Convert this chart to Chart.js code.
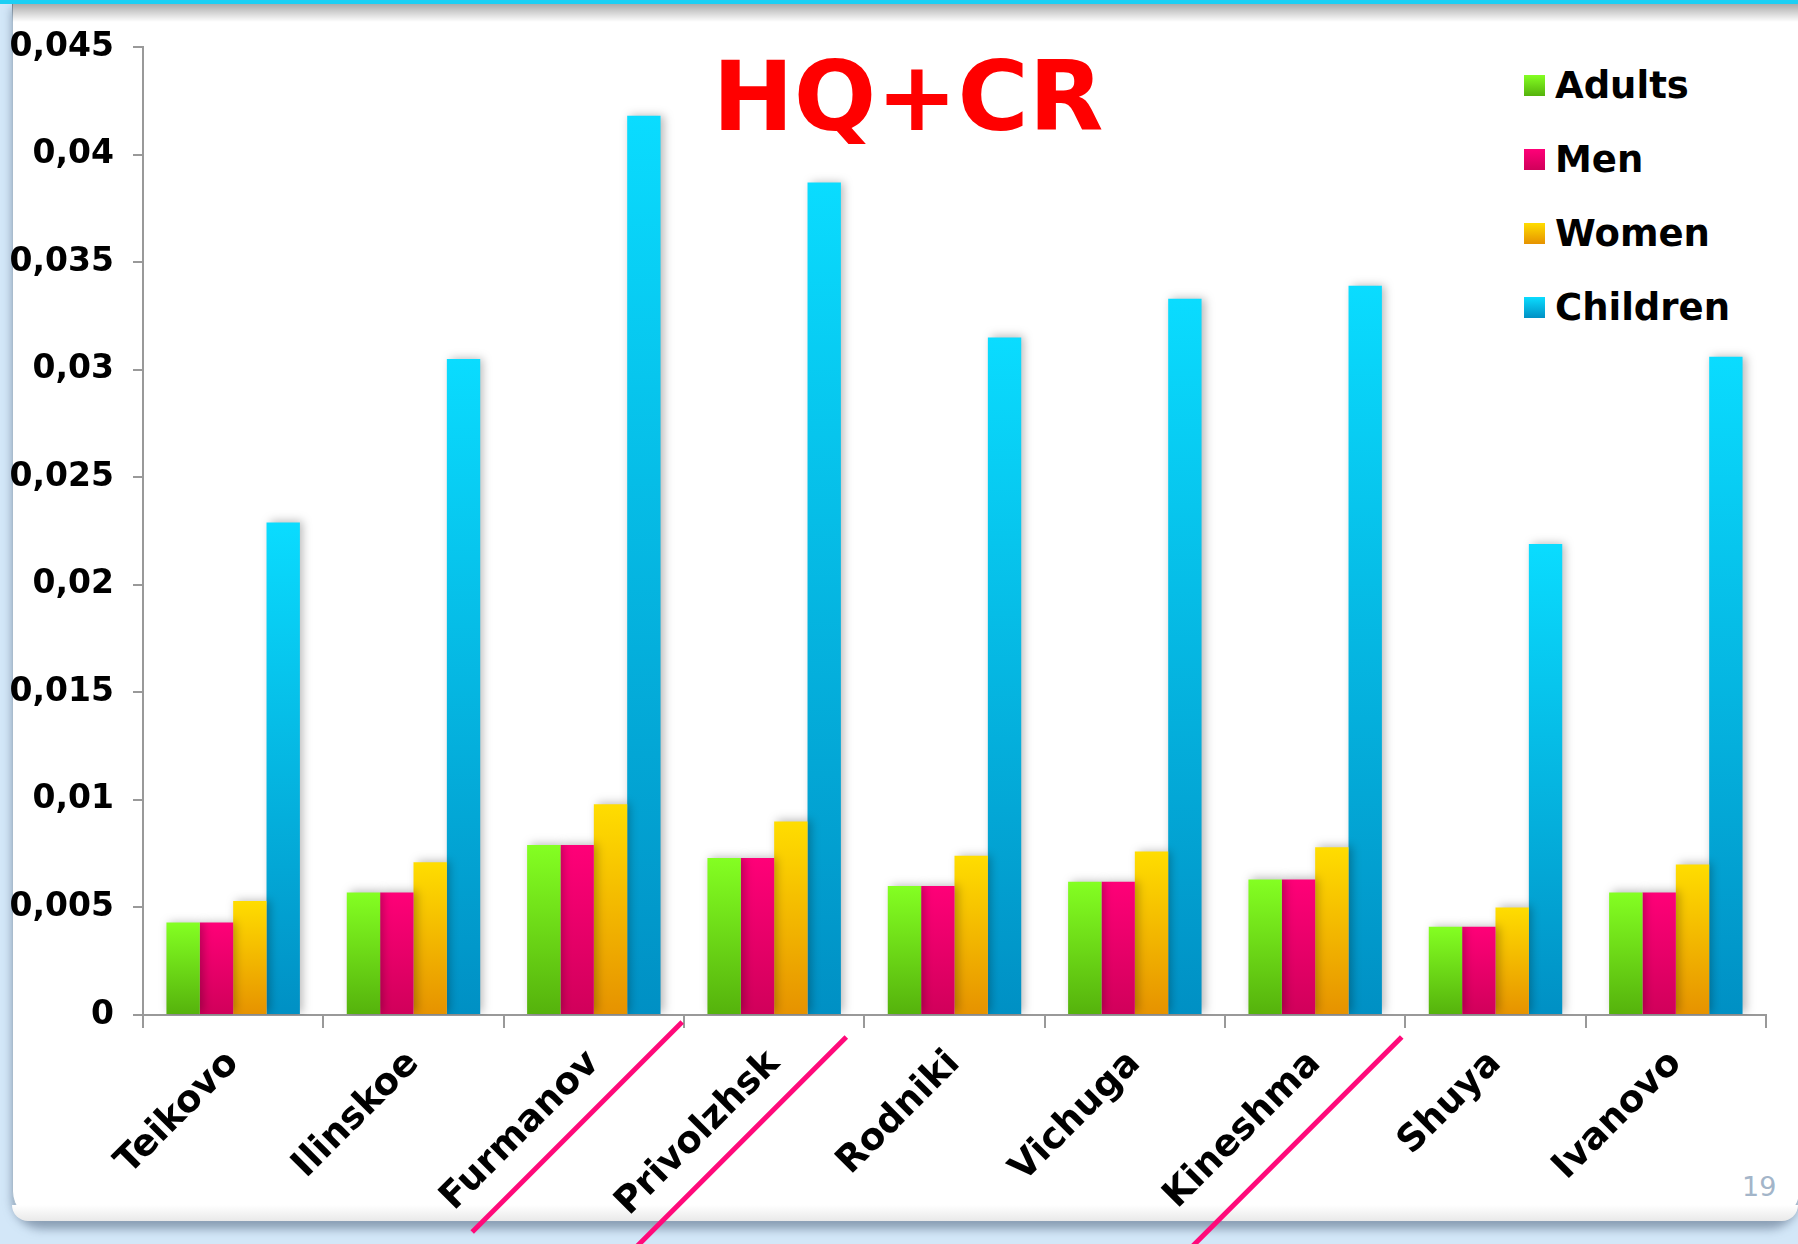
<!DOCTYPE html>
<html>
<head>
<meta charset="utf-8">
<script src="https://cdn.jsdelivr.net/npm/chart.js@4.4.1/dist/chart.umd.min.js"></script>
<style>
  body { margin: 0; width: 1798px; height: 1244px; overflow: hidden; background: #d3e7f8; font-family: "DejaVu Sans", Verdana, sans-serif; position: relative; }
  .panel { position: absolute; left: 12px; top: 0; width: 1786px; height: 1221px; background: #fff; border-left: 1px solid #a9bccd; border-radius: 0 0 30px 30px; box-shadow: 0 8px 10px rgba(90, 110, 135, 0.6); }
  .panel-foot { position: absolute; left: 12px; top: 1205px; width: 1786px; height: 16px; border-radius: 0 0 30px 30px; background: linear-gradient(#fff, #e9e9e9); }
  .topbar { position: absolute; left: 0; top: 0; width: 1798px; height: 4px; background: #1ccff4; }
  .topshade { position: absolute; left: 12px; top: 4px; width: 1786px; height: 18px; background: linear-gradient(rgba(0,0,0,0.33), rgba(0,0,0,0)); }
  .title { position: absolute; left: 0; width: 1816px; top: 44px; text-align: center; font-weight: bold; font-size: 97px; color: #ff0000; line-height: 1.1; }
  .legend { position: absolute; left: 1524px; top: 64px; }
  .legend div { height: 74px; display: flex; align-items: flex-start; font-weight: bold; font-size: 37px; color: #000; }
  .legend span.box { width: 21px; height: 21px; margin-top: 11px; margin-right: 10px; }
  .legend span.txt { line-height: 43px; }
  .pageno { position: absolute; left: 1742px; top: 1171px; font-size: 27px; color: #a3b5c9; }
  .wrap { position: absolute; left: 0; top: 0; width: 1798px; height: 1244px; }
</style>
</head>
<body>
<div class="panel"></div>
<div class="panel-foot"></div>
<div class="topshade"></div>
<div class="topbar"></div>
<div class="title">HQ+CR</div>
<div class="legend" id="legend"></div>
<div class="pageno">19</div>
<div class="wrap"><canvas id="chart"></canvas></div>
<script>
const towns = ["Teikovo", "Ilinskoe", "Furmanov", "Privolzhsk", "Rodniki", "Vichuga", "Kineshma", "Shuya", "Ivanovo"];
const seriesNames = ["Adults", "Men", "Women", "Children"];

const adults = [0.0043, 0.0057, 0.0079, 0.0073, 0.0060, 0.0062, 0.0063, 0.0041, 0.0057];
const men = [0.0043, 0.0057, 0.0079, 0.0073, 0.0060, 0.0062, 0.0063, 0.0041, 0.0057];
const women = [0.0053, 0.0071, 0.0098, 0.0090, 0.0074, 0.0076, 0.0078, 0.0050, 0.0070];
const children = [0.0229, 0.0305, 0.0418, 0.0387, 0.0315, 0.0333, 0.0339, 0.0219, 0.0306];

const yTickLabels = ["0", "0,005", "0,01", "0,015", "0,02", "0,025", "0,03", "0,035", "0,04", "0,045"];

// towns crossed out by hand on the slide
const struckOut = ["Furmanov", "Privolzhsk", "Kineshma"];

// top / bottom colours of each bar gradient
const topColors = ["#84ff22", "#ff0078", "#ffdd00", "#0adcff"];
const bottomColors = ["#55b20c", "#d0005a", "#e69200", "#0090c4"];

function barFill(i) {
  return (ctx) => {
    const chart = ctx.chart;
    const y = chart.scales.y;
    if (!chart.chartArea || !y || ctx.type !== "data") return topColors[i];
    const yTop = y.getPixelForValue(ctx.raw);
    const yBot = y.getPixelForValue(0);
    const g = chart.ctx.createLinearGradient(0, yTop, 0, yBot);
    g.addColorStop(0, topColors[i]);
    g.addColorStop(1, bottomColors[i]);
    return g;
  };
}

// html legend on top of the plot
const legendEl = document.getElementById("legend");
seriesNames.forEach((name, i) => {
  const row = document.createElement("div");
  row.innerHTML = `<span class="box" style="background:linear-gradient(${topColors[i]},${bottomColors[i]})"></span><span class="txt">${name}</span>`;
  legendEl.appendChild(row);
});

const barShadow = {
  id: "barShadow",
  beforeDatasetsDraw(chart) {
    const c = chart.ctx;
    c.save();
    c.shadowColor = "rgba(0,0,0,0.28)";
    c.shadowBlur = 9;
    c.shadowOffsetX = 3;
    c.shadowOffsetY = -1;
  },
  afterDatasetsDraw(chart) {
    chart.ctx.restore();
  },
};

const strikeLines = {
  id: "strikeLines",
  afterDraw(chart) {
    const x = chart.scales.x;
    const bottom = chart.chartArea.bottom;
    const step = x.getPixelForValue(1) - x.getPixelForValue(0);
    const starts = { Furmanov: [0.49, 7], Privolzhsk: [0.4, 22], Kineshma: [0.48, 22] };
    const c = chart.ctx;
    c.save();
    c.strokeStyle = "#ff0a7a";
    c.lineWidth = 5;
    struckOut.forEach((name) => {
      const idx = towns.indexOf(name);
      const x0 = x.getPixelForValue(idx) + starts[name][0] * step;
      const y0 = bottom + starts[name][1];
      c.beginPath();
      c.moveTo(x0, y0);
      c.lineTo(x0 - 210, y0 + 210);
      c.stroke();
    });
    c.restore();
  },
};

new Chart(document.getElementById("chart"), {
  type: "bar",
  data: {
    labels: towns,
    datasets: [adults, men, women, children].map((values, i) => ({
      label: seriesNames[i],
      data: values,
      backgroundColor: barFill(i),
      borderWidth: 0,
      categoryPercentage: 0.74,
      barPercentage: 1.0,
    })),
  },
  options: {
    responsive: true,
    maintainAspectRatio: false,
    animation: false,
    layout: { padding: { left: 0, top: 47, right: 32, bottom: 0 } },
    plugins: {
      legend: { display: false },
      tooltip: { enabled: false },
    },
    scales: {
      x: {
        afterFit: (scale) => { scale.height = 229; },
        grid: { drawOnChartArea: false, drawTicks: true, tickLength: 13, color: "#999", lineWidth: 2 },
        border: { display: true, color: "#999", width: 2 },
        ticks: {
          autoSkip: false,
          minRotation: 45,
          maxRotation: 45,
          padding: 14,
          color: "#000",
          font: { family: "DejaVu Sans", weight: "bold", size: 37 },
        },
      },
      y: {
        min: 0,
        max: 0.045,
        afterFit: (scale) => { scale.width = 143; },
        grid: { drawOnChartArea: false, drawTicks: true, tickLength: 10, color: "#999", lineWidth: 2 },
        border: { display: true, color: "#999", width: 2 },
        ticks: {
          stepSize: 0.005,
          padding: 19,
          color: "#000",
          font: { family: "DejaVu Sans", weight: "bold", size: 33 },
          callback: (value, index) => yTickLabels[index],
        },
      },
    },
  },
  plugins: [barShadow, strikeLines],
});
</script>
</body>
</html>
